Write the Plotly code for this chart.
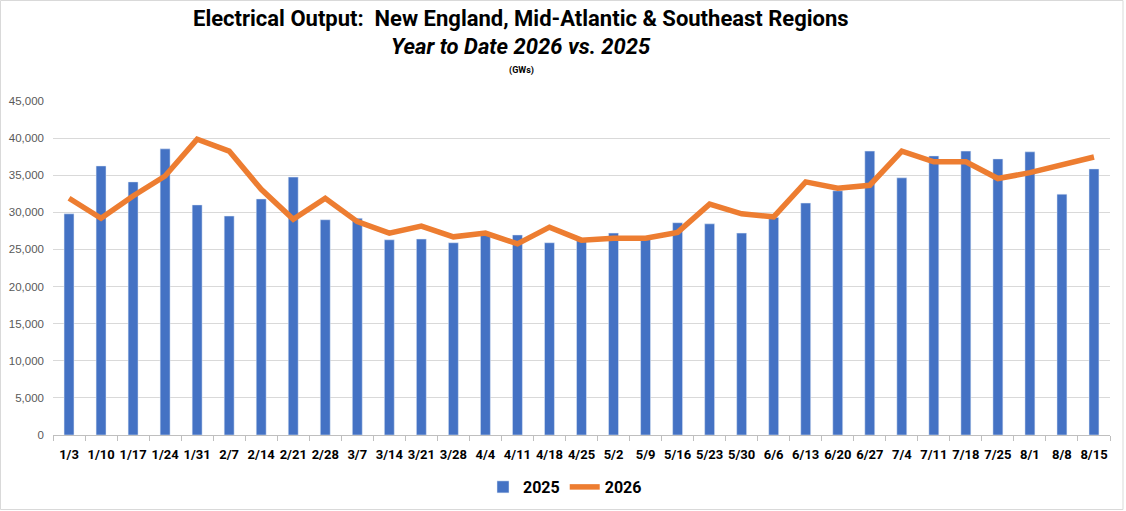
import plotly.graph_objects as go

# weekly data (GWs)
weeks = ["1/3", "1/10", "1/17", "1/24", "1/31", "2/7", "2/14", "2/21", "2/28", "3/7",
         "3/14", "3/21", "3/28", "4/4", "4/11", "4/18", "4/25", "5/2", "5/9", "5/16",
         "5/23", "5/30", "6/6", "6/13", "6/20", "6/27", "7/4", "7/11", "7/18", "7/25",
         "8/1", "8/8", "8/15"]

out_2025 = [29800, 36250, 34100, 38550, 31000, 29500, 31800, 34750, 29000, 29200,
            26300, 26400, 25900, 26900, 26950, 25900, 26200, 27200, 26400, 28600,
            28450, 27200, 29300, 31250, 32900, 38250, 34650, 37600, 38250, 37200,
            38150, 32450, 35850]

out_2026 = [31900, 29200, 32200, 34900, 39850, 38250, 33100, 29050, 31900, 28750,
            27200, 28150, 26700, 27200, 25750, 28000, 26250, 26500, 26500, 27300,
            31100, 29800, 29400, 34100, 33250, 33650, 38250, 36800, 36800, 34550,
            35350, 36400, 37450]

y_ticks = list(range(0, 45001, 5000))

W, H = 1126, 511
L, R, T, B = 53, 16, 101, 76
pw, ph = W - L - R, H - T - B


def px(x):
    return (x - L) / pw


def py(y):
    return (H - B - y) / ph


fig = go.Figure()
fig.add_bar(x=weeks, y=out_2025, name="<b>2025</b>", marker_color="#4472C4", width=0.31)
fig.add_scatter(x=weeks, y=out_2026, name="<b>2026</b>", mode="lines",
                line=dict(color="#ED7D31", width=5.5))

fig.update_layout(
    width=W, height=H,
    margin=dict(l=L, r=R, t=T, b=B, autoexpand=False),
    paper_bgcolor="white", plot_bgcolor="white",
    font=dict(family="Roboto, sans-serif", color="black"),
    showlegend=True,
    legend=dict(orientation="h", x=px(565), xanchor="center", y=py(487), yanchor="middle",
                font=dict(size=16), itemwidth=30, traceorder="normal",
                tracegroupgap=0),
    bargap=0.69,
    annotations=[
        dict(text="<b>Electrical Output:  New England, Mid-Atlantic & Southeast Regions</b>",
             xref="paper", yref="paper", x=px(521), y=py(19), showarrow=False,
             xanchor="center", yanchor="middle", font=dict(size=22)),
        dict(text="<b><i>Year to Date 2026 vs. 2025</i></b>",
             xref="paper", yref="paper", x=px(521), y=py(47), showarrow=False,
             xanchor="center", yanchor="middle", font=dict(size=22)),
        dict(text="<b>(GWs)</b>",
             xref="paper", yref="paper", x=px(521), y=py(70), showarrow=False,
             xanchor="center", yanchor="middle", font=dict(size=9)),
    ],
    shapes=[
        dict(type="rect", xref="paper", yref="paper",
             x0=px(0.5), x1=px(1123), y0=py(509.5), y1=py(0.5),
             line=dict(color="#D9D9D9", width=1), layer="below"),
    ],
)

fig.update_xaxes(
    type="category", showgrid=False, showline=True, linecolor="#BFBFBF", linewidth=1,
    ticks="outside", tickson="boundaries", ticklen=5, tickcolor="#BFBFBF",
    tickfont=dict(size=13, color="black"), tickangle=0, automargin=False,
    tickprefix="<b>", ticksuffix="</b>", ticklabelstandoff=7,
)
fig.update_yaxes(
    range=[0, 45000], tickvals=y_ticks, tickformat=",", showgrid=True,
    gridcolor="#D9D9D9", gridwidth=1, zeroline=False, showline=False,
    tickfont=dict(size=11.5, family="Liberation Sans, Arial, sans-serif", color="#595959"),
    ticks="", ticklabelstandoff=8, automargin=False,
)

# drop the browser's default page margin so the chart sits at 0,0
fig.write_html("out.html", config={"displayModeBar": False},
               post_script="document.body.style.margin='0px';")
